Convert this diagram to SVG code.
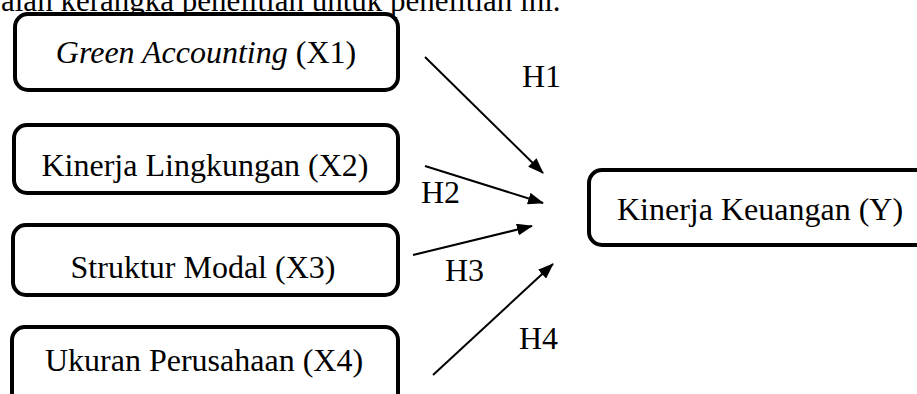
<svg xmlns="http://www.w3.org/2000/svg" width="917" height="394" viewBox="0 0 917 394">
<defs>
<style>
.box{fill:#fff;stroke:#000;stroke-width:4}
.t{font-family:"Liberation Serif","Times New Roman",serif;font-size:32px;fill:#000}
.top{font-size:31px}
.c{stroke:#000;stroke-width:2;fill:none}
</style>
<marker id="ah" viewBox="0 0 16 12" refX="15" refY="6" markerWidth="16" markerHeight="12" markerUnits="userSpaceOnUse" orient="auto">
<path d="M0,0 L16,6 L0,12 z" fill="#000"/>
</marker>
</defs>
<rect width="917" height="394" fill="#fff"/>
<text class="t top" x="1" y="11">alah kerangka penelitian untuk penelitian ini.</text>
<g id="x1"><rect class="box" x="15" y="14" width="383" height="76" rx="13"/><text class="t" x="206" y="63" text-anchor="middle"><tspan font-style="italic">Green Accounting</tspan> (X1)</text></g>
<g id="x2"><rect class="box" x="14" y="125" width="384" height="68" rx="13"/><text class="t" x="205" y="176" text-anchor="middle">Kinerja Lingkungan (X2)</text></g>
<g id="x3"><rect class="box" x="13" y="225" width="385" height="70" rx="13"/><text class="t" x="203" y="278" text-anchor="middle">Struktur Modal (X3)</text></g>
<g id="x4"><rect class="box" x="12" y="327" width="386" height="90" rx="13"/><text class="t" x="204" y="371" text-anchor="middle">Ukuran Perusahaan (X4)</text></g>
<g id="y"><rect class="box" x="589" y="170" width="350" height="75" rx="13"/><text class="t" x="617" y="220">Kinerja Keuangan (Y)</text></g>
<g id="connectors">
<line class="c" x1="425" y1="57" x2="543" y2="173" marker-end="url(#ah)"/>
<line class="c" x1="425" y1="166" x2="543" y2="203" marker-end="url(#ah)"/>
<line class="c" x1="413" y1="255" x2="532" y2="226" marker-end="url(#ah)"/>
<line class="c" x1="433" y1="375" x2="553" y2="264" marker-end="url(#ah)"/>
<text class="t" x="522" y="87">H1</text>
<text class="t" x="421" y="203">H2</text>
<text class="t" x="445" y="281">H3</text>
<text class="t" x="519" y="349">H4</text>
</g>
</svg>
